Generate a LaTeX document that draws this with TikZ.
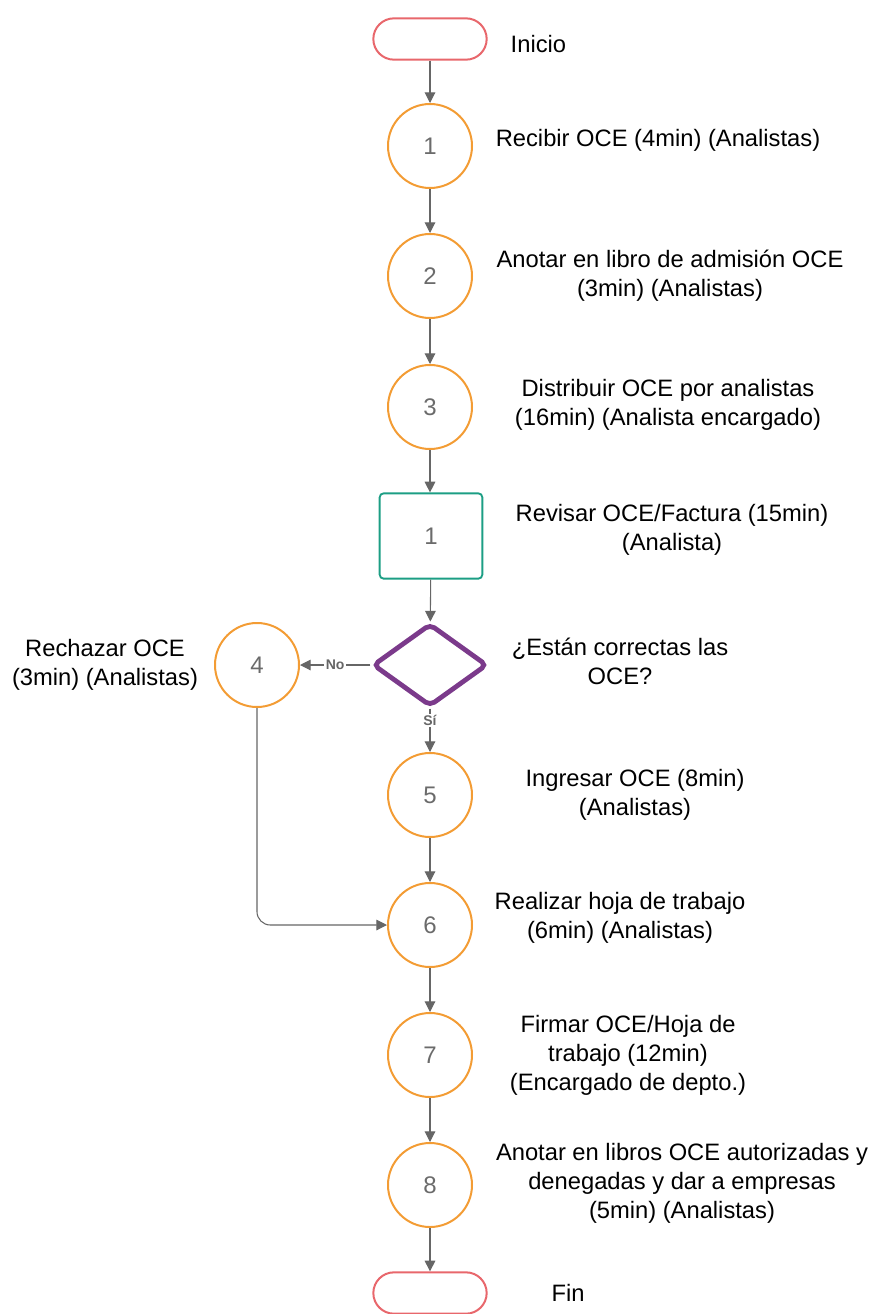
\documentclass[tikz,border=0pt]{standalone}
\usepackage{fontspec}
\setmainfont{Liberation Sans}
\usetikzlibrary{arrows.meta,shapes.geometric,shapes.misc}
\definecolor{orng}{HTML}{F39C34}
\definecolor{termred}{HTML}{E8676C}
\definecolor{teal}{HTML}{1C9E84}
\definecolor{purp}{HTML}{7B3A8B}
\definecolor{arrgray}{HTML}{666666}
\definecolor{numgray}{HTML}{6B6B6B}
\tikzset{
  proc/.style={circle,draw=orng,line width=1.5pt,minimum size=63pt,inner sep=0pt,text=numgray,font=\fontsize{18}{20}\selectfont},
  term/.style={rounded rectangle,draw=termred,line width=1.5pt,minimum width=85pt,minimum height=31pt,inner sep=0pt},
  subproc/.style={rectangle,rounded corners=3pt,draw=teal,line width=1.4pt,minimum width=77pt,minimum height=64pt,text=numgray,font=\fontsize{18}{20}\selectfont},
  dec/.style={diamond,draw=purp,line width=3.6pt,rounded corners=4pt,minimum width=86pt,minimum height=62pt,inner sep=0pt},
  lbl/.style={align=center,font=\fontsize{17.8}{21.75}\selectfont,text=black},
  conn/.style={draw=arrgray,line width=0.8pt,-{Triangle[length=8pt,width=8pt]}},
  tag/.style={font=\bfseries\fontsize{10.5}{11}\selectfont,text=arrgray,fill=white,inner sep=1pt}
}
\begin{document}
\begin{tikzpicture}[x=0.75pt,y=-0.75pt]
\useasboundingbox (0,0) rectangle (875,1314);
\node[term] (ini) at (430,39) {};
\node[lbl,anchor=west] (tini) at (506,44) {Inicio};
\node[proc] (p1) at (430,146) {1};
\node[lbl] (t1) at (658,140) {Recibir OCE (4min) (Analistas)};
\node[proc] (p2) at (430,276) {2};
\node[lbl] (t2) at (670,276) {Anotar en libro de admisión OCE\\(3min) (Analistas)};
\node[proc] (p3) at (430,407) {3};
\node[lbl] (t3) at (668,405) {Distribuir OCE por analistas\\(16min) (Analista encargado)};
\node[subproc] (s1) at (431,536) {1};
\node[lbl] (ts1) at (672,530) {Revisar OCE/Factura (15min)\\(Analista)};
\node[dec] (d) at (430,665) {};
\node[lbl] (td) at (620,661) {¿Están correctas las\\OCE?};
\node[proc] (p4) at (257,665) {4};
\node[lbl] (t4) at (105,665) {Rechazar OCE\\(3min) (Analistas)};
\node[proc] (p5) at (430,795) {5};
\node[lbl] (t5) at (635,795) {Ingresar OCE (8min)\\(Analistas)};
\node[proc] (p6) at (430,925) {6};
\node[lbl] (t6) at (620,918) {Realizar hoja de trabajo\\(6min) (Analistas)};
\node[proc] (p7) at (430,1055) {7};
\node[lbl] (t7) at (628,1055) {Firmar OCE/Hoja de\\trabajo (12min)\\(Encargado de depto.)};
\node[proc] (p8) at (430,1185) {8};
\node[lbl] (t8) at (682,1183) {Anotar en libros OCE autorizadas y\\denegadas y dar a empresas\\(5min) (Analistas)};
\node[term] (fin) at (430,1293) {};
\node[lbl,anchor=west] (tfin) at (547,1293) {Fin};
\draw[conn] (ini) -- (p1);
\draw[conn] (p1) -- (p2);
\draw[conn] (p2) -- (p3);
\draw[conn] (p3) -- (p3 |- s1.north);
\draw[conn] (s1) -- (d);
\draw[conn] (d) -- node[tag,pos=0.5] {No} (p4);
\draw[conn] (d) -- node[tag,pos=0.28] {Sí} (p5);
\draw[conn] (p5) -- (p6);
\draw[conn,rounded corners=10pt] (p4.south) |- (p6.west);
\draw[conn] (p6) -- (p7);
\draw[conn] (p7) -- (p8);
\draw[conn] (p8) -- (fin);
\end{tikzpicture}
\end{document}
